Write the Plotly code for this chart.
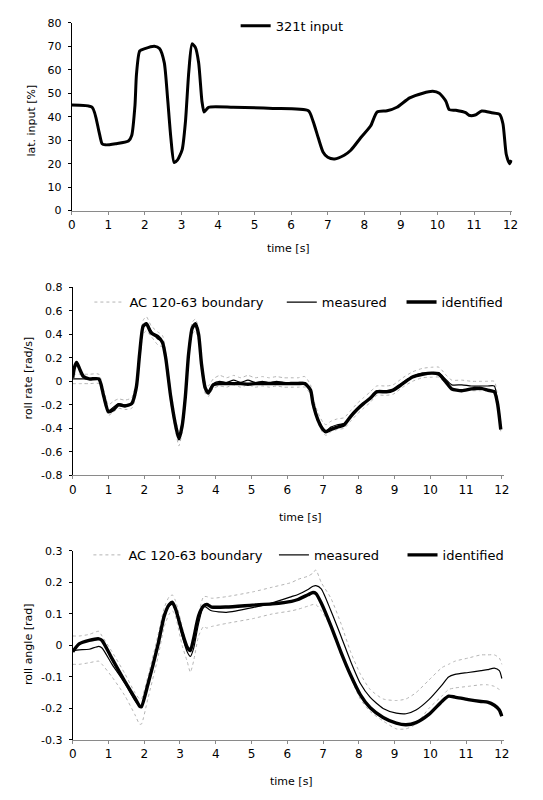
import plotly.graph_objects as go

# ---------------- data ----------------
# Top panel: lateral input [%]
t_input = [0, 0.56, 0.74, 0.83, 0.92, 1.2, 1.55, 1.64, 1.73, 1.77, 1.86, 2.0, 2.26, 2.4, 2.53,
           2.62, 2.71, 2.8, 2.89, 3.02, 3.11, 3.2, 3.29, 3.38, 3.47, 3.56, 3.62, 3.74, 4.41, 5.5,
           6.47, 6.6, 6.74, 6.87, 7.0, 7.19, 7.45, 7.63, 7.9, 8.17, 8.35, 8.62, 8.89, 9.24, 9.6,
           9.87, 10.05, 10.23, 10.32, 10.5, 10.77, 10.86, 11.03, 11.21, 11.48, 11.7, 11.79,
           11.88, 11.97, 12.02]
lat_input = [45, 44, 34, 28.5, 28, 28.5, 29.6, 32, 45, 58, 68, 69, 70, 69, 63,
             48, 31, 20.5, 21.5, 26, 38, 59, 71, 69.5, 63, 46.6, 42, 44, 44, 43.5,
             42.5, 38, 31, 25, 22.7, 22, 23.6, 25.7, 31, 36, 42, 42.5, 44, 48, 50,
             50.8, 50, 46.6, 43, 42.7, 41.7, 40.6, 40.7, 42.4, 41.7, 41, 37,
             24, 20, 21.5]

# Middle panel: roll rate [rad/s]
t_rate = [0, 0.05, 0.11, 0.2, 0.3, 0.46, 0.73, 0.87, 1.0, 1.14, 1.28, 1.46, 1.65, 1.78, 1.87,
          1.97, 2.06, 2.2, 2.38, 2.51, 2.6, 2.74, 2.88, 2.97, 3.06, 3.15, 3.24, 3.34, 3.43,
          3.52, 3.6, 3.7, 3.79, 3.93, 4.11, 4.3, 4.5, 4.7, 4.9, 5.1, 5.3, 5.5, 5.7, 5.9, 6.1,
          6.3, 6.49, 6.65, 6.72, 6.86, 7.0, 7.08, 7.22, 7.4, 7.59, 7.77, 7.95, 8.13, 8.32,
          8.5, 8.77, 8.96, 9.23, 9.5, 9.78, 10.05, 10.24, 10.42, 10.6, 10.88, 11.15, 11.42,
          11.6, 11.79, 11.88, 11.97]
rate_identified = [0.03, 0.12, 0.16, 0.1, 0.04, 0.02, 0.02, -0.13, -0.26, -0.24, -0.2, -0.21, -0.19, -0.05, 0.23,
                   0.47, 0.49, 0.41, 0.38, 0.33, 0.2, -0.13, -0.38, -0.49, -0.38, -0.13, 0.23, 0.45, 0.49,
                   0.4, 0.15, -0.05, -0.1, -0.03, -0.02, -0.02, -0.02, -0.02, -0.025, -0.02, -0.02, -0.02, -0.02, -0.02, -0.02,
                   -0.02, -0.02, -0.075, -0.19, -0.33, -0.41, -0.43, -0.41, -0.39, -0.37, -0.3, -0.24, -0.19, -0.145,
                   -0.09, -0.09, -0.075, -0.02, 0.036, 0.06, 0.07, 0.06, 0.0, -0.065, -0.08, -0.065, -0.06,
                   -0.075, -0.09, -0.19, -0.41]
rate_measured = [0.02, 0.02, 0.02, 0.02, 0.02, 0.02, 0.02, -0.12, -0.25, -0.22, -0.19, -0.2, -0.19, -0.05, 0.23,
                 0.46, 0.48, 0.43, 0.36, 0.34, 0.2, -0.13, -0.38, -0.48, -0.38, -0.13, 0.23, 0.45, 0.48,
                 0.4, 0.15, -0.05, -0.09, -0.02, 0.0, -0.01, 0.01, -0.01, 0.01, -0.01, 0.0, -0.01, 0.0, -0.01, -0.01,
                 -0.01, -0.01, -0.07, -0.18, -0.32, -0.4, -0.42, -0.39, -0.37, -0.36, -0.3, -0.24, -0.19, -0.14,
                 -0.08, -0.08, -0.07, -0.01, 0.04, 0.07, 0.075, 0.075, 0.02, -0.03, -0.03, -0.04, -0.04,
                 -0.04, -0.04, -0.17, -0.39]
rate_upper = [0.06, 0.06, 0.06, 0.06, 0.06, 0.06, 0.06, -0.08, -0.2, -0.17, -0.15, -0.16, -0.14, 0.0, 0.28,
              0.52, 0.55, 0.47, 0.42, 0.39, 0.25, -0.08, -0.33, -0.43, -0.33, -0.08, 0.28, 0.5, 0.53,
              0.45, 0.2, 0.0, -0.04, 0.02, 0.05, 0.03, 0.05, 0.03, 0.05, 0.03, 0.04, 0.03, 0.04, 0.03, 0.03,
              0.03, 0.04, -0.03, -0.14, -0.27, -0.35, -0.37, -0.34, -0.32, -0.31, -0.25, -0.19, -0.14, -0.09,
              -0.04, -0.04, -0.03, 0.03, 0.08, 0.11, 0.12, 0.12, 0.06, 0.01, 0.01, 0.0, 0.0,
              0.0, 0.0, -0.13, -0.35]
rate_lower = [-0.02, -0.02, -0.02, -0.02, -0.02, -0.02, -0.02, -0.16, -0.29, -0.26, -0.23, -0.24, -0.23, -0.1, 0.18,
              0.4, 0.43, 0.38, 0.31, 0.29, 0.15, -0.18, -0.43, -0.55, -0.43, -0.18, 0.18, 0.4, 0.43,
              0.35, 0.1, -0.1, -0.13, -0.06, -0.04, -0.05, -0.03, -0.05, -0.03, -0.05, -0.04, -0.05, -0.04, -0.05, -0.05,
              -0.05, -0.05, -0.11, -0.22, -0.36, -0.44, -0.46, -0.43, -0.41, -0.4, -0.34, -0.28, -0.23, -0.18,
              -0.12, -0.12, -0.11, -0.05, 0.0, 0.03, 0.035, 0.035, -0.02, -0.07, -0.07, -0.08, -0.08,
              -0.08, -0.08, -0.21, -0.43]

# Bottom panel: roll angle [rad]
t_angle = [0, 0.18, 0.46, 0.73, 0.82, 1.1, 1.46, 1.74, 1.87, 1.92, 2.1, 2.38, 2.56, 2.7, 2.79, 2.88,
           3.06, 3.2, 3.29, 3.38, 3.52, 3.66, 3.75, 3.88, 4.3, 5.03, 5.58, 6.12, 6.3, 6.58, 6.72,
           6.8, 6.95, 7.22, 7.5, 7.77, 8.04, 8.32, 8.68, 9.05, 9.32, 9.6, 9.96, 10.33, 10.51,
           10.69, 11.06, 11.42, 11.6, 11.79, 11.93, 12.0]
angle_identified = [-0.02, 0.005, 0.016, 0.021, 0.016, -0.042, -0.115, -0.167, -0.193, -0.195, -0.125, 0.0, 0.094,
                    0.13, 0.137, 0.115, 0.042, -0.005, -0.016, 0.021, 0.094, 0.125, 0.13, 0.122, 0.122, 0.128,
                    0.132, 0.14, 0.146, 0.161, 0.168, 0.165, 0.135, 0.0625, -0.021, -0.094, -0.156, -0.198,
                    -0.229, -0.247, -0.252, -0.245, -0.219, -0.177, -0.161, -0.164, -0.172, -0.178, -0.18,
                    -0.19, -0.205, -0.225]
angle_measured = [-0.016, -0.014, -0.012, -0.003, -0.008, -0.06, -0.12, -0.175, -0.19, -0.19, -0.12, 0.005, 0.1,
                  0.125, 0.13, 0.11, 0.03, -0.02, -0.035, -0.01, 0.07, 0.125, 0.12, 0.11, 0.105, 0.12,
                  0.135, 0.155, 0.162, 0.178, 0.188, 0.19, 0.18, 0.11, 0.03, -0.05, -0.12, -0.165,
                  -0.2, -0.215, -0.217, -0.205, -0.172, -0.125, -0.1, -0.092, -0.086, -0.08, -0.077,
                  -0.072, -0.08, -0.105]
angle_upper = [0.03, 0.03, 0.035, 0.045, 0.03, -0.02, -0.09, -0.15, -0.17, -0.17, -0.1, 0.03, 0.12,
               0.155, 0.16, 0.14, 0.06, 0.0, -0.01, 0.02, 0.1, 0.155, 0.155, 0.15, 0.155, 0.17,
               0.185, 0.2, 0.21, 0.22, 0.23, 0.24, 0.2, 0.15, 0.07, -0.02, -0.09, -0.14,
               -0.17, -0.175, -0.17, -0.15, -0.11, -0.07, -0.06, -0.05, -0.04, -0.03, -0.03,
               -0.03, -0.04, -0.06]
angle_lower = [-0.06, -0.06, -0.055, -0.05, -0.06, -0.1, -0.16, -0.22, -0.25, -0.25, -0.17, -0.04, 0.06,
               0.1, 0.11, 0.09, 0.0, -0.05, -0.085, -0.05, 0.03, 0.06, 0.055, 0.06, 0.07, 0.085,
               0.1, 0.11, 0.115, 0.125, 0.13, 0.13, 0.11, 0.06, -0.02, -0.1, -0.17, -0.21,
               -0.24, -0.265, -0.265, -0.25, -0.2, -0.16, -0.14, -0.135, -0.13, -0.125, -0.125,
               -0.13, -0.14, -0.145]

# tick labels
x_ticks = list(range(0, 13))
x_ticklabels = [str(v) for v in x_ticks]
input_ticks = [0, 10, 20, 30, 40, 50, 60, 70, 80]
input_ticklabels = ["0", "10", "20", "30", "40", "50", "60", "70", "80"]
rate_ticks = [-0.8, -0.6, -0.4, -0.2, 0, 0.2, 0.4, 0.6, 0.8]
rate_ticklabels = ["-0.8", "-0.6", "-0.4", "-0.2", "0", "0.2", "0.4", "0.6", "0.8"]
angle_ticks = [-0.3, -0.2, -0.1, 0, 0.1, 0.2, 0.3]
angle_ticklabels = ["-0.3", "-0.2", "-0.1", "0", "0.1", "0.2", "0.3"]

# ---------------- figure ----------------
W, H = 543, 800
FONT = "DejaVu Sans"


def px_x(p):
    return p / W


def px_y(p):
    return 1 - p / H


fig = go.Figure()

SPL = dict(shape="spline", smoothing=0.6)
BOUND = dict(color="#b4b4b4", width=1, dash="dot", **SPL)

# top
fig.add_trace(go.Scatter(x=t_input, y=lat_input, mode="lines", name="321t input",
                         line=dict(color="black", width=3.0, **SPL),
                         xaxis="x", yaxis="y", legend="legend"))

# middle
fig.add_trace(go.Scatter(x=t_rate, y=rate_upper, mode="lines", name="AC 120-63 boundary",
                         line=BOUND, xaxis="x2", yaxis="y2", legend="legend2", legendgroup="b2"))
fig.add_trace(go.Scatter(x=t_rate, y=rate_lower, mode="lines", name="AC 120-63 boundary",
                         line=BOUND, xaxis="x2", yaxis="y2", showlegend=False, legendgroup="b2"))
fig.add_trace(go.Scatter(x=t_rate, y=rate_measured, mode="lines", name="measured",
                         line=dict(color="black", width=1.2, **SPL), xaxis="x2", yaxis="y2", legend="legend3"))
fig.add_trace(go.Scatter(x=t_rate, y=rate_identified, mode="lines", name="identified",
                         line=dict(color="black", width=3.4, **SPL), xaxis="x2", yaxis="y2", legend="legend4"))

# bottom
fig.add_trace(go.Scatter(x=t_angle, y=angle_upper, mode="lines", name="AC 120-63 boundary",
                         line=BOUND, xaxis="x3", yaxis="y3", legend="legend5", legendgroup="b3"))
fig.add_trace(go.Scatter(x=t_angle, y=angle_lower, mode="lines", name="AC 120-63 boundary",
                         line=BOUND, xaxis="x3", yaxis="y3", showlegend=False, legendgroup="b3"))
fig.add_trace(go.Scatter(x=t_angle, y=angle_measured, mode="lines", name="measured",
                         line=dict(color="black", width=1.2, **SPL), xaxis="x3", yaxis="y3", legend="legend6"))
fig.add_trace(go.Scatter(x=t_angle, y=angle_identified, mode="lines", name="identified",
                         line=dict(color="black", width=3.4, **SPL), xaxis="x3", yaxis="y3", legend="legend7"))


def xaxis_cfg(left, right, anchor):
    return dict(domain=[px_x(left), px_x(right)], range=[0, 12.05], anchor=anchor,
                tickmode="array", tickvals=x_ticks, ticktext=x_ticklabels,
                showline=True, linecolor="#8a8a8a", linewidth=1, ticks="outside", ticklen=3,
                tickcolor="#8a8a8a", showgrid=False, zeroline=False,
                tickfont=dict(family=FONT, size=12, color="black"))


def yaxis_cfg(top, bottom, rng, vals, texts, anchor):
    return dict(domain=[px_y(bottom), px_y(top)], range=rng, anchor=anchor,
                tickmode="array", tickvals=vals, ticktext=texts,
                showline=True, linecolor="black", linewidth=1, ticks="outside", ticklen=3,
                tickcolor="black", showgrid=False, zeroline=False, ticklabelstandoff=4,
                tickfont=dict(family=FONT, size=11, color="black"))


def legend_cfg(x_text, y_center):
    return dict(x=px_x(x_text - 40), y=px_y(y_center), xanchor="left", yanchor="middle",
                bgcolor="rgba(0,0,0,0)", borderwidth=0, font=dict(family=FONT, size=13, color="black"),
                itemwidth=30, orientation="h", tracegroupgap=0)


fig.update_layout(
    width=W, height=H,
    margin=dict(l=0, r=0, t=0, b=0),
    paper_bgcolor="white", plot_bgcolor="white",
    xaxis=xaxis_cfg(69, 518, "y"),
    yaxis=yaxis_cfg(17, 208, [0, 80], input_ticks, input_ticklabels, "x"),
    xaxis2=xaxis_cfg(70, 509, "y2"),
    yaxis2=yaxis_cfg(286, 477, [-0.8, 0.8], rate_ticks, rate_ticklabels, "x2"),
    xaxis3=xaxis_cfg(70, 509, "y3"),
    yaxis3=yaxis_cfg(554, 746, [-0.3, 0.3], angle_ticks, angle_ticklabels, "x3"),
    legend=legend_cfg(276, 20),
    legend2=legend_cfg(127, 301),
    legend3=legend_cfg(323, 301),
    legend4=legend_cfg(445, 301),
    legend5=legend_cfg(126, 558),
    legend6=legend_cfg(315, 558),
    legend7=legend_cfg(446, 558),
    showlegend=True,
)

titles = [
    ("lat. input [%]", 28, 116, -90),
    ("roll rate [rad/s]", 25, 378, -90),
    ("roll angle [rad]", 25, 649, -90),
    ("time [s]", 290, 247, 0),
    ("time [s]", 302, 520, 0),
    ("time [s]", 293, 788, 0),
]
for text, xp, yp, ang in titles:
    fig.add_annotation(text=text, x=px_x(xp), y=px_y(yp), xref="paper", yref="paper",
                       showarrow=False, textangle=ang, xanchor="center", yanchor="middle",
                       font=dict(family=FONT, size=11, color="black"))

fig.write_html("out.html")
